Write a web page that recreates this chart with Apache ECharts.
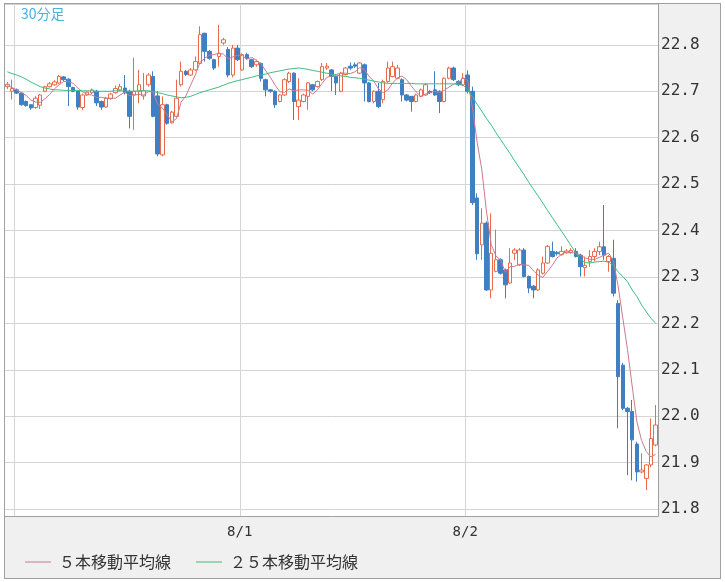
<!DOCTYPE html>
<html><head><meta charset="utf-8">
<script src="https://cdn.jsdelivr.net/npm/echarts@6/dist/echarts.min.js"></script>
<style>
html,body{margin:0;padding:0;background:#fff;}
#chart{position:absolute;left:4px;top:3px;width:717px;height:576px;box-sizing:border-box;border:1px solid #a0a0a0;background:#f0f0f0;}
</style></head><body><div id="chart"></div>
<script>
const titleText = '30分足';
const seriesNames = ['５本移動平均線', '２５本移動平均線'];
const yTickLabels = ['21.8','21.9','22.0','22.1','22.2','22.3','22.4','22.5','22.6','22.7','22.8'];
const shownDays = ['8/1', '8/2'];

// 30-minute bars from 7/30 23:00
const categories = (function () {
  const out = [];
  const dayNames = ['7/30', '7/31', '8/1', '8/2'];
  let d = 0, mins = 23 * 60;
  for (let i = 0; i < 139; i++) {
    const h = Math.floor(mins / 60), m = mins % 60;
    out.push(dayNames[d] + ' ' + h + ':' + (m < 10 ? '0' + m : m));
    mins += 30;
    if (mins >= 1440) { mins = 0; d++; }
  }
  return out;
})();

const opens = [22.710,22.700,22.703,22.696,22.678,22.671,22.665,22.670,22.700,22.710,
 22.714,22.718,22.731,22.726,22.708,22.700,22.665,22.692,22.697,22.700,
 22.678,22.666,22.684,22.697,22.703,22.707,22.700,22.692,22.700,22.690,
 22.714,22.732,22.690,22.563,22.671,22.632,22.646,22.714,22.743,22.735,
 22.746,22.760,22.825,22.786,22.768,22.775,22.804,22.790,22.735,22.793,
 22.746,22.779,22.768,22.757,22.760,22.725,22.703,22.700,22.678,22.692,
 22.721,22.739,22.667,22.678,22.689,22.714,22.710,22.725,22.750,22.746,
 22.732,22.700,22.736,22.754,22.757,22.739,22.757,22.718,22.678,22.700,
 22.682,22.721,22.732,22.728,22.725,22.692,22.689,22.678,22.689,22.692,
 22.700,22.703,22.700,22.678,22.728,22.750,22.721,22.714,22.735,22.700,
 22.470,22.369,22.416,22.272,22.312,22.337,22.315,22.287,22.351,22.326,
 22.358,22.301,22.280,22.272,22.308,22.330,22.355,22.353,22.348,22.352,
 22.353,22.355,22.347,22.320,22.333,22.344,22.355,22.365,22.333,22.340,
 22.243,22.110,22.017,22.010,21.940,21.880,21.866,21.895,21.938];

const closes = [22.715,22.706,22.696,22.671,22.669,22.664,22.685,22.692,22.710,22.716,
 22.720,22.732,22.725,22.710,22.700,22.666,22.692,22.698,22.703,22.675,
 22.666,22.685,22.694,22.706,22.710,22.697,22.646,22.700,22.714,22.701,
 22.735,22.646,22.565,22.671,22.631,22.655,22.685,22.743,22.736,22.746,
 22.764,22.822,22.786,22.771,22.750,22.782,22.811,22.735,22.793,22.768,
 22.779,22.771,22.753,22.764,22.728,22.703,22.700,22.671,22.692,22.725,
 22.739,22.678,22.681,22.692,22.718,22.703,22.721,22.753,22.754,22.732,
 22.718,22.739,22.750,22.750,22.754,22.761,22.718,22.678,22.700,22.667,
 22.721,22.750,22.753,22.750,22.692,22.681,22.678,22.692,22.703,22.714,
 22.697,22.692,22.678,22.728,22.750,22.725,22.714,22.728,22.700,22.460,
 22.350,22.416,22.272,22.351,22.337,22.308,22.283,22.330,22.358,22.358,
 22.301,22.276,22.272,22.315,22.330,22.366,22.344,22.350,22.355,22.356,
 22.357,22.344,22.322,22.325,22.344,22.355,22.365,22.347,22.344,22.265,
 22.085,22.017,22.010,21.949,21.880,21.884,21.895,21.952,21.981];

const lows = [22.705,22.682,22.694,22.669,22.667,22.660,22.662,22.662,22.698,22.708,
 22.712,22.716,22.722,22.668,22.698,22.660,22.659,22.690,22.694,22.668,
 22.660,22.664,22.682,22.695,22.700,22.693,22.620,22.617,22.674,22.682,
 22.710,22.644,22.560,22.560,22.628,22.630,22.644,22.710,22.733,22.733,
 22.744,22.758,22.764,22.768,22.746,22.753,22.800,22.730,22.730,22.765,
 22.744,22.768,22.750,22.753,22.721,22.689,22.697,22.664,22.676,22.690,
 22.718,22.638,22.638,22.676,22.660,22.700,22.708,22.722,22.746,22.700,
 22.692,22.698,22.734,22.746,22.750,22.737,22.678,22.676,22.674,22.664,
 22.674,22.718,22.730,22.726,22.678,22.678,22.656,22.676,22.687,22.690,
 22.694,22.690,22.653,22.676,22.726,22.722,22.711,22.711,22.695,22.455,
 22.337,22.337,22.270,22.254,22.310,22.305,22.254,22.285,22.337,22.324,
 22.299,22.265,22.254,22.270,22.305,22.328,22.342,22.346,22.346,22.350,
 22.350,22.342,22.301,22.301,22.322,22.333,22.347,22.337,22.311,22.258,
 21.974,22.013,21.873,21.862,21.859,21.877,21.841,21.890,21.935];

const highs = [22.720,22.725,22.706,22.698,22.680,22.672,22.690,22.694,22.712,22.720,
 22.724,22.735,22.733,22.728,22.710,22.702,22.695,22.700,22.706,22.703,
 22.680,22.688,22.697,22.712,22.716,22.735,22.703,22.772,22.746,22.739,
 22.739,22.743,22.700,22.689,22.673,22.658,22.725,22.764,22.746,22.750,
 22.775,22.840,22.826,22.789,22.770,22.843,22.815,22.795,22.800,22.800,
 22.782,22.783,22.770,22.768,22.762,22.727,22.705,22.702,22.694,22.728,
 22.742,22.741,22.728,22.695,22.720,22.716,22.723,22.761,22.761,22.748,
 22.734,22.742,22.752,22.762,22.762,22.763,22.760,22.720,22.702,22.718,
 22.725,22.764,22.764,22.757,22.728,22.694,22.690,22.695,22.706,22.717,
 22.702,22.743,22.702,22.730,22.753,22.753,22.724,22.739,22.745,22.710,
 22.480,22.448,22.420,22.437,22.402,22.340,22.318,22.362,22.362,22.362,
 22.362,22.303,22.283,22.319,22.344,22.369,22.376,22.356,22.366,22.360,
 22.362,22.362,22.350,22.344,22.358,22.362,22.376,22.455,22.347,22.380,
 22.250,22.115,22.020,22.035,21.945,21.920,21.897,21.995,22.024];

const ma5 = [22.712,22.708,22.703,22.697,22.691,22.681,22.677,22.676,22.684,22.693,
 22.705,22.714,22.721,22.721,22.717,22.707,22.699,22.693,22.692,22.687,
 22.687,22.685,22.685,22.685,22.692,22.698,22.691,22.692,22.693,22.692,
 22.699,22.699,22.672,22.664,22.650,22.634,22.641,22.677,22.690,22.713,
 22.735,22.762,22.771,22.778,22.779,22.782,22.780,22.770,22.774,22.778,
 22.777,22.769,22.773,22.767,22.759,22.744,22.730,22.713,22.699,22.698,
 22.705,22.701,22.703,22.703,22.702,22.694,22.703,22.717,22.730,22.733,
 22.736,22.739,22.739,22.738,22.742,22.751,22.747,22.732,22.722,22.705,
 22.697,22.703,22.718,22.728,22.733,22.725,22.711,22.699,22.689,22.694,
 22.697,22.700,22.697,22.702,22.709,22.715,22.719,22.729,22.723,22.665,
 22.590,22.531,22.440,22.370,22.345,22.337,22.310,22.322,22.323,22.327,
 22.326,22.325,22.313,22.304,22.299,22.312,22.325,22.341,22.349,22.354,
 22.352,22.352,22.347,22.341,22.338,22.338,22.342,22.347,22.351,22.335,
 22.281,22.212,22.144,22.065,21.988,21.948,21.924,21.912,21.918];

const ma25 = [22.742,22.738,22.735,22.731,22.726,22.720,22.715,22.710,22.707,22.705,
 22.703,22.703,22.702,22.702,22.702,22.702,22.701,22.701,22.701,22.700,
 22.700,22.700,22.700,22.701,22.701,22.701,22.700,22.700,22.701,22.701,
 22.701,22.700,22.697,22.695,22.692,22.690,22.688,22.686,22.687,22.689,
 22.693,22.697,22.700,22.703,22.706,22.709,22.713,22.717,22.720,22.723,
 22.725,22.728,22.730,22.733,22.735,22.737,22.740,22.742,22.744,22.746,
 22.748,22.749,22.750,22.749,22.747,22.745,22.743,22.741,22.739,22.737,
 22.735,22.733,22.732,22.730,22.729,22.728,22.726,22.724,22.722,22.720,
 22.718,22.717,22.717,22.717,22.717,22.717,22.717,22.716,22.716,22.716,
 22.716,22.716,22.716,22.716,22.716,22.716,22.715,22.713,22.703,22.688,
 22.672,22.657,22.641,22.627,22.611,22.596,22.581,22.566,22.550,22.535,
 22.520,22.504,22.489,22.474,22.459,22.443,22.428,22.413,22.398,22.383,
 22.367,22.352,22.338,22.331,22.330,22.332,22.333,22.334,22.332,22.325,
 22.311,22.301,22.290,22.272,22.258,22.240,22.225,22.211,22.200];

const candleData = opens.map((o, i) => [o, closes[i], lows[i], highs[i]]);

const UP = '#e86c4c', DOWN = '#3f7fc2';
const MA5_COLOR = '#c97a90', MA25_COLOR = '#3dbd80';
const chart = echarts.init(document.getElementById('chart'));
chart.setOption({
  animation: false,
  title: {
    text: titleText, left: 16, top: 3, padding: 0,
    textStyle: { color: '#48b0e4', fontSize: 14, fontWeight: 'normal', fontFamily: 'Noto Sans CJK JP' }
  },
  legend: {
    data: seriesNames, left: 20, top: 550, padding: 0, icon: 'rect',
    itemWidth: 26, itemHeight: 1, itemGap: 25,
    textStyle: { color: '#333', fontSize: 16, fontFamily: 'Noto Sans CJK JP', padding: [0, 0, 0, 3] }
  },
  grid: { left: 0, top: 0, width: 653, height: 512, show: true, backgroundColor: '#ffffff', borderWidth: 0 },
  xAxis: {
    type: 'category', data: categories, boundaryGap: true,
    axisLine: { show: true, lineStyle: { color: '#a0a0a0' } },
    axisTick: { show: false },
    axisLabel: {
      interval: (idx, val) => val.endsWith(' 0:00') && shownDays.indexOf(val.split(' ')[0]) >= 0,
      formatter: v => v.split(' ')[0],
      color: '#333', fontSize: 14, fontFamily: 'DejaVu Sans Mono', margin: 9, padding: [0, 5, 0, 0]
    },
    splitLine: { show: true, interval: (idx, val) => val.endsWith(' 0:00'), lineStyle: { color: '#d4d4d4' } }
  },
  yAxis: {
    type: 'value', position: 'right', min: 21.785, max: 22.888, scale: true,
    splitNumber: 11, minInterval: 0.1, maxInterval: 0.1,
    axisLine: { show: true, lineStyle: { color: '#a0a0a0' } },
    axisTick: { show: false },
    axisLabel: {
      color: '#333', fontSize: 16, fontFamily: 'DejaVu Sans Mono', margin: 3,
      formatter: v => { const s = v.toFixed(1); return (Math.abs(v - parseFloat(s)) < 1e-6 && yTickLabels.indexOf(s) >= 0) ? s : ''; }
    },
    splitLine: { show: true, lineStyle: { color: '#d4d4d4' } }
  },
  series: [
    {
      type: 'candlestick', name: '30分足', data: candleData, barWidth: 4,
      itemStyle: { color: '#ffffff', color0: DOWN, borderColor: UP, borderColor0: DOWN, borderWidth: 1 }
    },
    { type: 'line', name: seriesNames[0], data: ma5, symbol: 'none', lineStyle: { color: MA5_COLOR, width: 1 }, itemStyle: { color: MA5_COLOR } },
    { type: 'line', name: seriesNames[1], data: ma25, symbol: 'none', lineStyle: { color: MA25_COLOR, width: 1 }, itemStyle: { color: MA25_COLOR } }
  ]
});
</script></body></html>
